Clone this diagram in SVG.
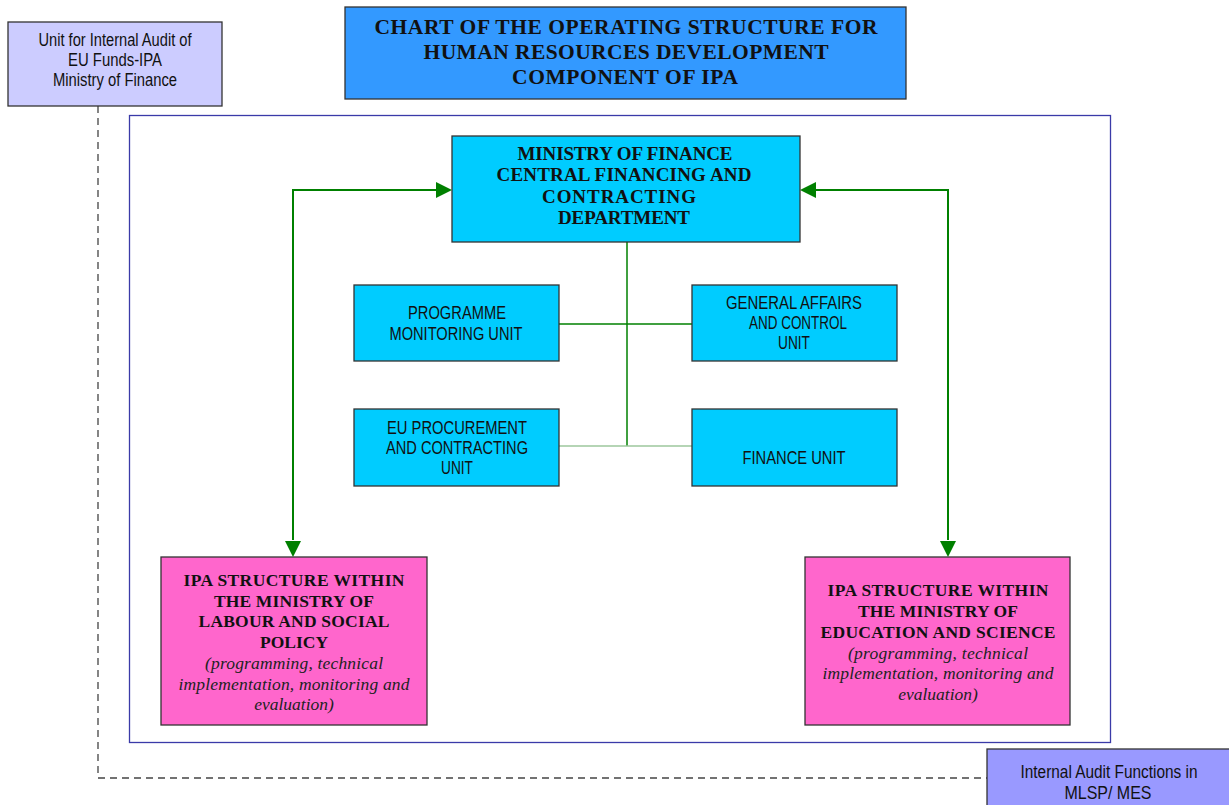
<svg xmlns="http://www.w3.org/2000/svg" width="1229" height="805" viewBox="0 0 1229 805">
<defs>
<style>
.box{stroke:#333;stroke-width:1.3}
.sans{font-family:"Liberation Sans",Arial,sans-serif;font-size:17.5px;fill:#111;text-anchor:middle}
.ser{font-family:"Liberation Serif","Times New Roman",serif;font-weight:bold;fill:#111;text-anchor:middle}
.ital{font-family:"Liberation Serif","Times New Roman",serif;font-style:italic;font-size:17.5px;fill:#222;text-anchor:middle}
.grn{stroke:#008000;stroke-width:2;fill:none}
.tree{stroke:#008000;stroke-width:1.5;fill:none}
</style>
</defs>
<rect width="1229" height="805" fill="#fff"/>

<g id="frame">
<rect x="129.5" y="115.5" width="981" height="627" fill="none" stroke="#3a3aa8" stroke-width="1.3"/>
</g>

<g id="connectors">
<path d="M98,106 V778 H987" fill="none" stroke="#444" stroke-width="1.3" stroke-dasharray="7,5"/>
<path class="grn" d="M293,540 V190 H437"/>
<path d="M452,190 L436,182 L436,198 z" fill="#008000"/>
<path d="M293,557 L285,541 L301,541 z" fill="#008000"/>
<path class="grn" d="M948,540 V190 H815"/>
<path d="M800,190 L816,182 L816,198 z" fill="#008000"/>
<path d="M948,557 L940,541 L956,541 z" fill="#008000"/>
<path class="tree" d="M627,242 V446"/>
<path class="tree" d="M559,324 H692"/>
<path d="M559,446 H692" stroke="#9cc79c" stroke-width="1.5" fill="none"/>
</g>

<g id="audit-unit">
<rect class="box" x="8" y="22" width="214" height="84" fill="#ccccff"/>
<text class="sans" font-size="17" x="115" y="46" textLength="153" lengthAdjust="spacingAndGlyphs">Unit for Internal Audit of</text>
<text class="sans" font-size="17" x="115" y="66" textLength="94" lengthAdjust="spacingAndGlyphs">EU Funds-IPA</text>
<text class="sans" font-size="17" x="115" y="86" textLength="124" lengthAdjust="spacingAndGlyphs">Ministry of Finance</text>
</g>

<g id="title">
<rect class="box" x="345" y="7" width="561" height="92" fill="#3399ff"/>
<text class="ser" font-size="21.5" x="626" y="34" textLength="503">CHART OF THE OPERATING STRUCTURE FOR</text>
<text class="ser" font-size="21.5" x="626" y="59" textLength="405">HUMAN RESOURCES DEVELOPMENT</text>
<text class="ser" font-size="21.5" x="625" y="84" textLength="226">COMPONENT OF IPA</text>
</g>

<g id="mof">
<rect class="box" x="452" y="136" width="348" height="106" fill="#00ccff"/>
<text class="ser" font-size="19" x="625" y="160" textLength="215">MINISTRY OF FINANCE</text>
<text class="ser" font-size="19" x="624" y="181" textLength="255">CENTRAL FINANCING AND</text>
<text class="ser" font-size="19" x="619" y="203" textLength="154">CONTRACTING</text>
<text class="ser" font-size="19" x="624" y="224" textLength="132">DEPARTMENT</text>
</g>

<g id="pmu">
<rect class="box" x="354" y="285" width="205" height="76" fill="#00ccff"/>
<text class="sans" x="457" y="319" textLength="98" lengthAdjust="spacingAndGlyphs">PROGRAMME</text>
<text class="sans" x="456" y="340" textLength="133" lengthAdjust="spacingAndGlyphs">MONITORING UNIT</text>
</g>

<g id="gac">
<rect class="box" x="692" y="285" width="205" height="76" fill="#00ccff"/>
<text class="sans" x="794" y="309" textLength="136" lengthAdjust="spacingAndGlyphs">GENERAL AFFAIRS</text>
<text class="sans" x="798" y="329" textLength="98" lengthAdjust="spacingAndGlyphs">AND CONTROL</text>
<text class="sans" x="794" y="349" textLength="32" lengthAdjust="spacingAndGlyphs">UNIT</text>
</g>

<g id="epc">
<rect class="box" x="354" y="409" width="205" height="77" fill="#00ccff"/>
<text class="sans" x="457" y="434" textLength="140" lengthAdjust="spacingAndGlyphs">EU PROCUREMENT</text>
<text class="sans" x="457" y="454" textLength="142" lengthAdjust="spacingAndGlyphs">AND CONTRACTING</text>
<text class="sans" x="457" y="474" textLength="32" lengthAdjust="spacingAndGlyphs">UNIT</text>
</g>

<g id="fin">
<rect class="box" x="692" y="409" width="205" height="77" fill="#00ccff"/>
<text class="sans" x="794" y="464" textLength="103" lengthAdjust="spacingAndGlyphs">FINANCE UNIT</text>
</g>

<g id="mlsp">
<rect class="box" x="161" y="557" width="266" height="168" fill="#ff66cc"/>
<text class="ser" font-size="17.5" x="294" y="586" textLength="221">IPA STRUCTURE WITHIN</text>
<text class="ser" font-size="17.5" x="294" y="607" textLength="160">THE MINISTRY OF</text>
<text class="ser" font-size="17.5" x="294" y="627" textLength="191">LABOUR AND SOCIAL</text>
<text class="ser" font-size="17.5" x="294" y="648">POLICY</text>
<text class="ital" x="294" y="669" textLength="178">(programming, technical</text>
<text class="ital" x="294" y="690" textLength="231">implementation, monitoring and</text>
<text class="ital" x="294" y="710">evaluation)</text>
</g>

<g id="mes">
<rect class="box" x="805" y="557" width="265" height="168" fill="#ff66cc"/>
<text class="ser" font-size="17.5" x="938" y="596" textLength="221">IPA STRUCTURE WITHIN</text>
<text class="ser" font-size="17.5" x="938" y="617" textLength="160">THE MINISTRY OF</text>
<text class="ser" font-size="17.5" x="938" y="638" textLength="235">EDUCATION AND SCIENCE</text>
<text class="ital" x="938" y="659" textLength="180">(programming, technical</text>
<text class="ital" x="938" y="679" textLength="231">implementation, monitoring and</text>
<text class="ital" x="938" y="700">evaluation)</text>
</g>

<g id="audit-functions">
<rect class="box" x="987" y="749" width="250" height="60" fill="#9999ff"/>
<text class="sans" font-size="17" x="1109" y="778" textLength="177" lengthAdjust="spacingAndGlyphs">Internal Audit Functions in</text>
<text class="sans" font-size="17" x="1108" y="799" textLength="87" lengthAdjust="spacingAndGlyphs">MLSP/ MES</text>
</g>
</svg>
